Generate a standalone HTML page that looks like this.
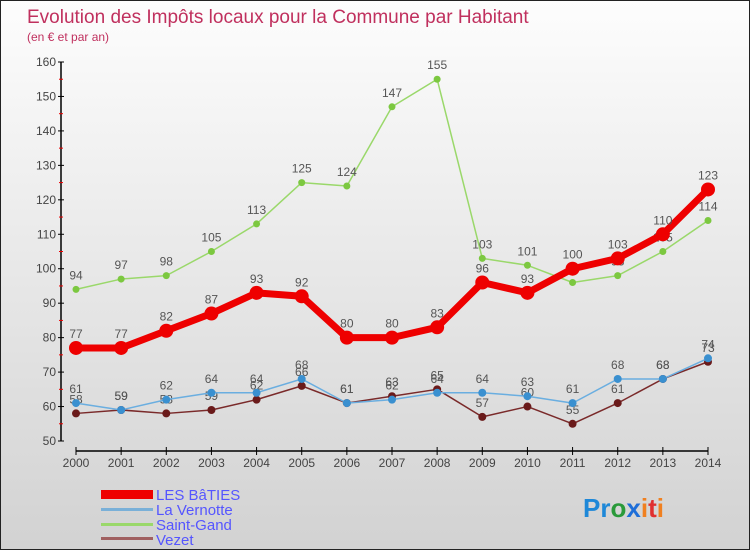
<!DOCTYPE html>
<html><head><meta charset="utf-8"><style>
body{margin:0}
#c{width:750px;height:550px;position:relative;overflow:hidden;background:linear-gradient(#fdfdfd,#d2d2d2);box-sizing:border-box;border:1px solid #222;font-family:"Liberation Sans",sans-serif}
</style></head><body>
<div id="c">
<svg width="750" height="550" id="svg">
<text x="26" y="22" font-size="19" fill="#c0305e">Evolution des Impôts locaux pour la Commune par Habitant</text>
<text x="26" y="40" font-size="12" fill="#c0305e">(en € et par an)</text>
<g id="axes"></g><g id="series"></g>
<g font-size="15" fill="#5555ff">
<rect x="100" y="489" width="52" height="9" fill="#e00"/>
<text x="155" y="499" fill="#5555ff">LES BâTIES</text>
<rect x="100" y="507" width="52" height="3" fill="#7ab0d8"/>
<text x="155" y="514" fill="#5555ff">La Vernotte</text>
<rect x="100" y="522" width="52" height="3" fill="#9ad86a"/>
<text x="155" y="529" fill="#5555ff">Saint-Gand</text>
<rect x="100" y="536" width="52" height="3" fill="#a06060"/>
<text x="155" y="544" fill="#5555ff">Vezet</text>
</g>
<text x="582" y="516" font-size="26" font-weight="bold"><tspan fill="#1e88d8">Pr</tspan><tspan fill="#2a9a3a">o</tspan><tspan fill="#1e6ed8">x</tspan><tspan fill="#f08020">i</tspan><tspan fill="#e03030">t</tspan><tspan fill="#f08020">i</tspan></text>
</svg></div>
<script>
const years=[2000,2001,2002,2003,2004,2005,2006,2007,2008,2009,2010,2011,2012,2013,2014];
const yTicks=[50,60,70,80,90,100,110,120,130,140,150,160];
const baties=[77,77,82,87,93,92,80,80,83,96,93,100,103,110,123];
const vernotte=[61,59,62,64,64,68,61,62,64,64,63,61,68,68,74];
const saintGand=[94,97,98,105,113,125,124,147,155,103,101,96,98,105,114];
const vezet=[58,59,58,59,62,66,61,63,65,57,60,55,61,68,73];
const NS="http://www.w3.org/2000/svg";
const xs=i=>75+i*(707-75)/(years.length-1);
const ys=v=>440-(v-50)*(440-61)/110;
function mk(t,a,p){const e=document.createElementNS(NS,t);for(const k in a)e.setAttribute(k,a[k]);p.appendChild(e);return e;}
const ax=document.getElementById('axes');
let l=mk('line',{x1:60,y1:ys(160),x2:60,y2:440,stroke:'#000','stroke-width':1.5},ax);


yTicks.forEach(v=>{
 mk('line',{x1:57,x2:63,y1:ys(v),y2:ys(v),stroke:'#000'},ax);
 if(v<160)mk('line',{x1:58,x2:62,y1:ys(v+5),y2:ys(v+5),stroke:'#e00'},ax);
 const t=mk('text',{x:55,y:ys(v)+4,'text-anchor':'end','font-size':12,fill:'#444'},ax);t.textContent=v;
 
 
});
l=mk('line',{x1:75,y1:450,x2:707,y2:450,stroke:'#000','stroke-width':1.5},ax);


years.forEach((y,i)=>{
 mk('line',{x1:xs(i),x2:xs(i),y1:446,y2:454,stroke:'#000'},ax);
 const t=mk('text',{x:xs(i),y:466,'text-anchor':'middle','font-size':12,fill:'#444'},ax);t.textContent=y;
 
 
});
const sg=document.getElementById('series');
function draw(d,name,color,w,r,dot){
 const g=mk('g',{},sg);
 
 
 const p=mk('polyline',{points:d.map((v,i)=>xs(i)+','+ys(v)).join(' '),fill:'none',stroke:color,'stroke-width':w,'stroke-linejoin':'round'},g);
 
 
 d.forEach((v,i)=>{
  const c=mk('circle',{cx:xs(i),cy:ys(v),r:r,fill:dot},g);
  
  
  const t=mk('text',{x:xs(i),y:ys(v)-10,'text-anchor':'middle','font-size':12,fill:'#555'},g);t.textContent=v;
  
  
 });
}
draw(saintGand,'saint-gand','#9ad86a',1.5,3.5,'#7cc840');
draw(vezet,'vezet','#7a2a2a',1.5,4,'#6a1a1a');
draw(vernotte,'la-vernotte','#6aaee0',1.5,4,'#3a90d0');
draw(baties,'les-baties','#ee0000',7,7,'#ee0000');
</script>
</body></html>
